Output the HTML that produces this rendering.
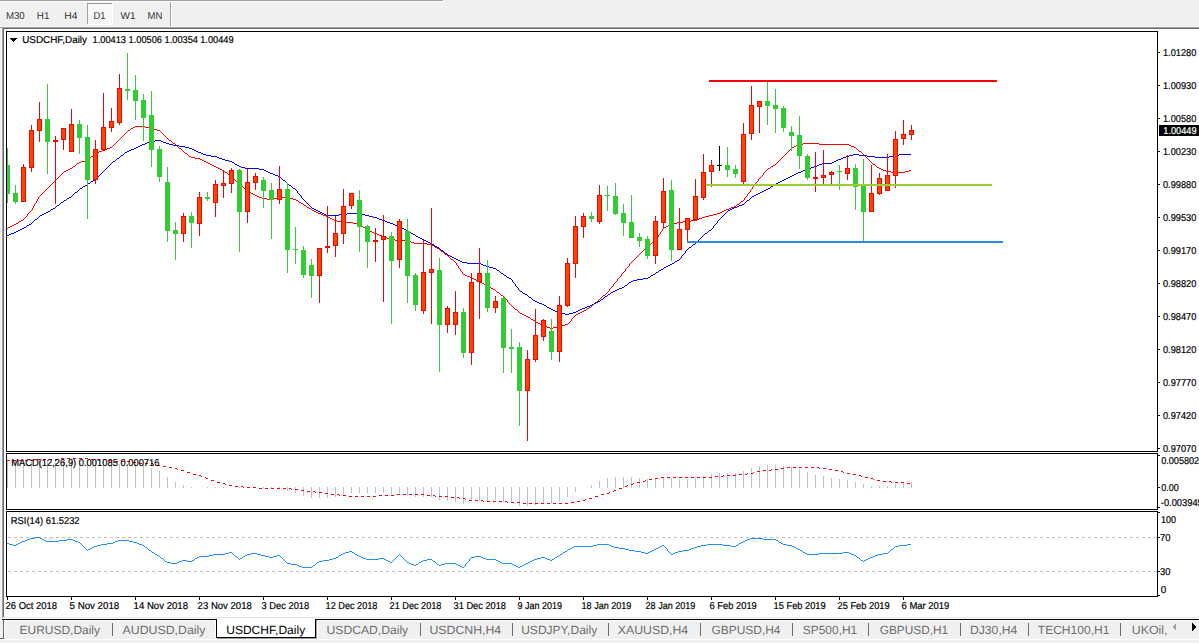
<!DOCTYPE html>
<html><head><meta charset="utf-8"><title>USDCHF,Daily</title>
<style>
html,body{margin:0;padding:0;background:#f0f0f0;}
body{width:1199px;height:643px;overflow:hidden;font-family:"Liberation Sans",sans-serif;}
svg{display:block;}
text{text-rendering:geometricPrecision;}
</style></head><body>
<svg width="1199" height="643" viewBox="0 0 1199 643" shape-rendering="crispEdges" font-family='"Liberation Sans", sans-serif'><rect x="0" y="0" width="1199" height="643" fill="#f0f0f0"/>
<rect x="0" y="0" width="443" height="1" fill="#a0a0a0"/>
<rect x="0" y="1" width="444" height="1" fill="#ffffff"/>
<rect x="443" y="0" width="1" height="2" fill="#ffffff"/>
<defs><pattern id="dith" x="0" y="0" width="2" height="2" patternUnits="userSpaceOnUse"><rect width="2" height="2" fill="#f0f0f0"/><rect width="1" height="1" fill="#ffffff"/><rect x="1" y="1" width="1" height="1" fill="#ffffff"/></pattern></defs>
<rect x="87" y="3" width="26" height="22" fill="url(#dith)"/>
<rect x="87" y="3" width="26" height="1" fill="#a0a0a0"/>
<rect x="87" y="3" width="1" height="22" fill="#a0a0a0"/>
<rect x="87" y="24" width="26" height="1" fill="#ffffff"/>
<rect x="112" y="3" width="1" height="22" fill="#ffffff"/>
<rect x="170" y="2" width="1" height="25" fill="#a0a0a0"/>
<rect x="171" y="2" width="1" height="25" fill="#ffffff"/>
<text x="5.8999999999999995" y="19" font-size="10" fill="#303030" stroke="#303030" stroke-width="0" text-anchor="start" textLength="18.8" lengthAdjust="spacingAndGlyphs">M30</text>
<text x="36.800000000000004" y="19" font-size="10" fill="#303030" stroke="#303030" stroke-width="0" text-anchor="start" textLength="12.600000000000001" lengthAdjust="spacingAndGlyphs">H1</text>
<text x="64.19999999999999" y="19" font-size="10" fill="#303030" stroke="#303030" stroke-width="0" text-anchor="start" textLength="13.200000000000001" lengthAdjust="spacingAndGlyphs">H4</text>
<text x="93.39999999999999" y="19" font-size="10" fill="#303030" stroke="#303030" stroke-width="0" text-anchor="start" textLength="12.0" lengthAdjust="spacingAndGlyphs">D1</text>
<text x="120.5" y="19" font-size="10" fill="#303030" stroke="#303030" stroke-width="0" text-anchor="start" textLength="14.9" lengthAdjust="spacingAndGlyphs">W1</text>
<text x="147.6" y="19" font-size="10" fill="#303030" stroke="#303030" stroke-width="0" text-anchor="start" textLength="14.8" lengthAdjust="spacingAndGlyphs">MN</text>
<rect x="0" y="26" width="1199" height="1" fill="#f6f6f6"/>
<rect x="0" y="27" width="1199" height="1" fill="#a0a0a0"/>
<rect x="2" y="28" width="1197" height="1" fill="#696969"/>
<rect x="1" y="28" width="1" height="590" fill="#f6f6f6"/>
<rect x="2" y="28" width="1" height="590" fill="#a0a0a0"/>
<rect x="3" y="28" width="1" height="590" fill="#696969"/>
<rect x="4" y="29" width="1195" height="588" fill="#ffffff"/>
<rect x="3" y="617" width="1196" height="1" fill="#e3e3e3"/>
<rect x="6" y="31" width="1152" height="1" fill="#000"/>
<rect x="6" y="451" width="1152" height="1" fill="#000"/>
<rect x="6" y="31" width="1" height="421" fill="#000"/>
<rect x="1157" y="31" width="1" height="421" fill="#000"/>
<rect x="6" y="453" width="1152" height="1" fill="#000"/>
<rect x="6" y="509" width="1152" height="1" fill="#000"/>
<rect x="6" y="453" width="1" height="57" fill="#000"/>
<rect x="1157" y="453" width="1" height="57" fill="#000"/>
<rect x="6" y="511" width="1152" height="1" fill="#000"/>
<rect x="6" y="596" width="1152" height="1" fill="#000"/>
<rect x="6" y="511" width="1" height="86" fill="#000"/>
<rect x="1157" y="511" width="1" height="86" fill="#000"/>
<defs><clipPath id="cm"><rect x="7" y="32" width="1150" height="419"/></clipPath><clipPath id="cmacd"><rect x="7" y="454" width="1150" height="55"/></clipPath><clipPath id="crsi"><rect x="7" y="512" width="1150" height="84"/></clipPath></defs>
<g clip-path="url(#cm)">
<path d="M7 228h1v1h-1zM365 228h2v1h-2zM663 228h1v1h-1zM8 227h2v1h-2zM363 227h2v1h-2zM664 227h2v1h-2zM10 226h2v1h-2zM362 226h1v1h-1zM666 226h2v1h-2zM12 225h2v1h-2zM360 225h2v1h-2zM668 225h2v1h-2zM14 224h2v1h-2zM357 224h3v1h-3zM670 224h3v1h-3zM16 223h2v1h-2zM353 223h4v1h-4zM673 223h4v1h-4zM18 222h1v1h-1zM341 222h12v1h-12zM677 222h6v1h-6zM19 221h2v1h-2zM337 221h4v1h-4zM683 221h8v1h-8zM21 220h2v1h-2zM334 220h3v1h-3zM691 220h6v1h-6zM23 219h1v1h-1zM332 219h2v1h-2zM697 219h2v1h-2zM24 218h1v1h-1zM330 218h2v1h-2zM699 218h3v1h-3zM25 217h1v1h-1zM328 217h2v1h-2zM702 217h3v1h-3zM26 216h1v1h-1zM326 216h2v1h-2zM705 216h4v1h-4zM27 215h1v1h-1zM323 215h3v1h-3zM709 215h4v1h-4zM27 214h1v1h-1zM321 214h2v1h-2zM713 214h4v1h-4zM28 213h1v1h-1zM318 213h3v1h-3zM717 213h3v1h-3zM29 212h1v1h-1zM316 212h2v1h-2zM720 212h2v1h-2zM30 211h1v1h-1zM314 211h2v1h-2zM722 211h2v1h-2zM31 210h1v1h-1zM312 210h2v1h-2zM724 210h2v1h-2zM32 209h1v1h-1zM311 209h1v1h-1zM726 209h3v1h-3zM32 208h1v1h-1zM309 208h2v1h-2zM729 208h2v1h-2zM33 207h1v1h-1zM307 207h2v1h-2zM731 207h3v1h-3zM33 206h1v1h-1zM306 206h1v1h-1zM734 206h2v1h-2zM34 205h1v1h-1zM304 205h2v1h-2zM736 205h1v1h-1zM34 204h1v1h-1zM303 204h1v1h-1zM737 204h2v1h-2zM35 203h1v1h-1zM301 203h2v1h-2zM739 203h1v1h-1zM36 202h1v1h-1zM299 202h2v1h-2zM740 202h1v1h-1zM36 201h1v1h-1zM298 201h1v1h-1zM741 201h2v1h-2zM37 200h1v1h-1zM296 200h2v1h-2zM743 200h1v1h-1zM37 199h1v1h-1zM267 199h6v1h-6zM293 199h3v1h-3zM744 199h1v1h-1zM38 198h1v1h-1zM262 198h5v1h-5zM273 198h4v1h-4zM289 198h4v1h-4zM744 198h1v1h-1zM38 197h1v1h-1zM259 197h3v1h-3zM277 197h12v1h-12zM745 197h1v1h-1zM39 196h1v1h-1zM257 196h2v1h-2zM746 196h1v1h-1zM40 195h1v1h-1zM255 195h2v1h-2zM747 195h1v1h-1zM41 194h1v1h-1zM253 194h2v1h-2zM747 194h1v1h-1zM42 193h1v1h-1zM251 193h2v1h-2zM748 193h1v1h-1zM43 192h1v1h-1zM250 192h1v1h-1zM749 192h1v1h-1zM44 191h1v1h-1zM248 191h2v1h-2zM750 191h1v1h-1zM45 190h1v1h-1zM247 190h1v1h-1zM750 190h1v1h-1zM46 189h1v1h-1zM245 189h2v1h-2zM751 189h1v1h-1zM47 188h1v1h-1zM244 188h1v1h-1zM752 188h1v1h-1zM48 187h1v1h-1zM243 187h1v1h-1zM752 187h1v1h-1zM49 186h1v1h-1zM241 186h2v1h-2zM753 186h1v1h-1zM50 185h1v1h-1zM240 185h1v1h-1zM754 185h1v1h-1zM51 184h1v1h-1zM239 184h1v1h-1zM755 184h1v1h-1zM52 183h1v1h-1zM238 183h1v1h-1zM755 183h1v1h-1zM53 182h1v1h-1zM237 182h1v1h-1zM756 182h1v1h-1zM54 181h1v1h-1zM236 181h1v1h-1zM757 181h1v1h-1zM55 180h1v1h-1zM235 180h1v1h-1zM758 180h1v1h-1zM56 179h1v1h-1zM234 179h1v1h-1zM758 179h1v1h-1zM57 178h1v1h-1zM233 178h1v1h-1zM759 178h1v1h-1zM58 177h1v1h-1zM232 177h1v1h-1zM760 177h1v1h-1zM59 176h1v1h-1zM231 176h1v1h-1zM761 176h1v1h-1zM60 175h1v1h-1zM229 175h2v1h-2zM762 175h1v1h-1zM61 174h1v1h-1zM228 174h1v1h-1zM763 174h1v1h-1zM62 173h1v1h-1zM227 173h1v1h-1zM763 173h1v1h-1zM63 172h1v1h-1zM225 172h2v1h-2zM764 172h1v1h-1zM891 172h14v1h-14zM64 171h2v1h-2zM224 171h1v1h-1zM765 171h1v1h-1zM886 171h5v1h-5zM905 171h4v1h-4zM66 170h2v1h-2zM222 170h2v1h-2zM766 170h1v1h-1zM883 170h3v1h-3zM909 170h2v1h-2zM68 169h2v1h-2zM220 169h2v1h-2zM767 169h1v1h-1zM881 169h2v1h-2zM70 168h2v1h-2zM218 168h2v1h-2zM768 168h2v1h-2zM879 168h2v1h-2zM72 167h1v1h-1zM216 167h2v1h-2zM770 167h1v1h-1zM877 167h2v1h-2zM73 166h2v1h-2zM214 166h2v1h-2zM771 166h2v1h-2zM876 166h1v1h-1zM75 165h1v1h-1zM212 165h2v1h-2zM773 165h2v1h-2zM875 165h1v1h-1zM76 164h1v1h-1zM210 164h2v1h-2zM775 164h1v1h-1zM873 164h2v1h-2zM77 163h2v1h-2zM208 163h2v1h-2zM776 163h1v1h-1zM872 163h1v1h-1zM79 162h2v1h-2zM206 162h2v1h-2zM777 162h1v1h-1zM871 162h1v1h-1zM81 161h4v1h-4zM204 161h2v1h-2zM778 161h1v1h-1zM870 161h1v1h-1zM85 160h3v1h-3zM202 160h2v1h-2zM779 160h1v1h-1zM869 160h1v1h-1zM88 159h1v1h-1zM200 159h2v1h-2zM780 159h1v1h-1zM868 159h1v1h-1zM89 158h1v1h-1zM195 158h5v1h-5zM781 158h1v1h-1zM867 158h1v1h-1zM90 157h1v1h-1zM191 157h4v1h-4zM782 157h1v1h-1zM866 157h1v1h-1zM91 156h2v1h-2zM189 156h2v1h-2zM783 156h1v1h-1zM865 156h1v1h-1zM93 155h1v1h-1zM188 155h1v1h-1zM784 155h1v1h-1zM864 155h1v1h-1zM94 154h1v1h-1zM187 154h1v1h-1zM785 154h1v1h-1zM863 154h1v1h-1zM95 153h2v1h-2zM185 153h2v1h-2zM786 153h1v1h-1zM862 153h1v1h-1zM97 152h2v1h-2zM184 152h1v1h-1zM787 152h1v1h-1zM861 152h1v1h-1zM99 151h3v1h-3zM183 151h1v1h-1zM788 151h1v1h-1zM859 151h2v1h-2zM102 150h3v1h-3zM182 150h1v1h-1zM789 150h1v1h-1zM858 150h1v1h-1zM105 149h2v1h-2zM181 149h1v1h-1zM790 149h1v1h-1zM857 149h1v1h-1zM107 148h3v1h-3zM179 148h2v1h-2zM791 148h1v1h-1zM856 148h1v1h-1zM110 147h2v1h-2zM178 147h1v1h-1zM792 147h2v1h-2zM854 147h2v1h-2zM112 146h1v1h-1zM177 146h1v1h-1zM794 146h2v1h-2zM851 146h3v1h-3zM113 145h1v1h-1zM176 145h1v1h-1zM796 145h2v1h-2zM849 145h2v1h-2zM114 144h1v1h-1zM175 144h1v1h-1zM798 144h5v1h-5zM819 144h30v1h-30zM115 143h1v1h-1zM173 143h2v1h-2zM803 143h16v1h-16zM116 142h1v1h-1zM172 142h1v1h-1zM117 141h1v1h-1zM171 141h1v1h-1zM118 140h1v1h-1zM169 140h2v1h-2zM119 139h1v1h-1zM168 139h1v1h-1zM120 138h1v1h-1zM167 138h1v1h-1zM121 137h1v1h-1zM166 137h1v1h-1zM122 136h1v1h-1zM165 136h1v1h-1zM123 135h1v1h-1zM164 135h1v1h-1zM124 134h1v1h-1zM163 134h1v1h-1zM125 133h1v1h-1zM162 133h1v1h-1zM126 132h1v1h-1zM161 132h1v1h-1zM127 131h1v1h-1zM160 131h1v1h-1zM128 130h2v1h-2zM157 130h3v1h-3zM130 129h1v1h-1zM153 129h4v1h-4zM131 128h2v1h-2zM149 128h4v1h-4zM133 127h2v1h-2zM145 127h4v1h-4zM135 126h10v1h-10zM367 229h1v1h-1zM662 229h1v1h-1zM368 230h2v1h-2zM662 230h1v1h-1zM370 231h2v1h-2zM661 231h1v1h-1zM372 232h2v1h-2zM660 232h1v1h-1zM374 233h3v1h-3zM660 233h1v1h-1zM377 234h2v1h-2zM659 234h1v1h-1zM379 235h3v1h-3zM658 235h1v1h-1zM382 236h3v1h-3zM658 236h1v1h-1zM385 237h2v1h-2zM657 237h1v1h-1zM387 238h3v1h-3zM656 238h1v1h-1zM390 239h5v1h-5zM656 239h1v1h-1zM395 240h14v1h-14zM655 240h1v1h-1zM409 241h2v1h-2zM653 241h2v1h-2zM411 242h3v1h-3zM652 242h1v1h-1zM414 243h13v1h-13zM651 243h1v1h-1zM427 244h5v1h-5zM649 244h2v1h-2zM432 245h2v1h-2zM648 245h1v1h-1zM434 246h1v1h-1zM647 246h1v1h-1zM435 247h2v1h-2zM646 247h1v1h-1zM437 248h2v1h-2zM645 248h1v1h-1zM439 249h1v1h-1zM644 249h1v1h-1zM440 250h1v1h-1zM643 250h1v1h-1zM441 251h2v1h-2zM642 251h1v1h-1zM443 252h1v1h-1zM641 252h1v1h-1zM444 253h1v1h-1zM640 253h1v1h-1zM445 254h2v1h-2zM639 254h1v1h-1zM447 255h1v1h-1zM638 255h1v1h-1zM448 256h1v1h-1zM637 256h1v1h-1zM449 257h1v1h-1zM636 257h1v1h-1zM450 258h1v1h-1zM635 258h1v1h-1zM451 259h2v1h-2zM634 259h1v1h-1zM453 260h1v1h-1zM633 260h1v1h-1zM454 261h1v1h-1zM632 261h1v1h-1zM455 262h1v1h-1zM631 262h1v1h-1zM456 263h1v1h-1zM630 263h1v1h-1zM456 264h1v1h-1zM629 264h1v1h-1zM457 265h1v1h-1zM629 265h1v1h-1zM458 266h1v1h-1zM628 266h1v1h-1zM458 267h1v1h-1zM627 267h1v1h-1zM459 268h1v1h-1zM626 268h1v1h-1zM460 269h1v1h-1zM625 269h1v1h-1zM460 270h1v1h-1zM625 270h1v1h-1zM461 271h1v1h-1zM624 271h1v1h-1zM462 272h1v1h-1zM623 272h1v1h-1zM462 273h1v1h-1zM622 273h1v1h-1zM463 274h2v1h-2zM621 274h1v1h-1zM465 275h2v1h-2zM621 275h1v1h-1zM467 276h3v1h-3zM620 276h1v1h-1zM470 277h2v1h-2zM619 277h1v1h-1zM472 278h2v1h-2zM618 278h1v1h-1zM474 279h2v1h-2zM617 279h1v1h-1zM476 280h2v1h-2zM617 280h1v1h-1zM478 281h2v1h-2zM616 281h1v1h-1zM480 282h2v1h-2zM615 282h1v1h-1zM482 283h2v1h-2zM614 283h1v1h-1zM484 284h2v1h-2zM613 284h1v1h-1zM486 285h2v1h-2zM613 285h1v1h-1zM488 286h2v1h-2zM612 286h1v1h-1zM490 287h1v1h-1zM611 287h1v1h-1zM491 288h2v1h-2zM610 288h1v1h-1zM493 289h2v1h-2zM609 289h1v1h-1zM495 290h1v1h-1zM609 290h1v1h-1zM496 291h1v1h-1zM608 291h1v1h-1zM497 292h2v1h-2zM607 292h1v1h-1zM499 293h1v1h-1zM606 293h1v1h-1zM500 294h1v1h-1zM605 294h1v1h-1zM501 295h2v1h-2zM603 295h2v1h-2zM503 296h1v1h-1zM602 296h1v1h-1zM504 297h1v1h-1zM601 297h1v1h-1zM505 298h1v1h-1zM600 298h1v1h-1zM506 299h1v1h-1zM599 299h1v1h-1zM507 300h1v1h-1zM598 300h1v1h-1zM507 301h1v1h-1zM597 301h1v1h-1zM508 302h1v1h-1zM595 302h2v1h-2zM509 303h1v1h-1zM594 303h1v1h-1zM510 304h1v1h-1zM593 304h1v1h-1zM511 305h1v1h-1zM592 305h1v1h-1zM512 306h1v1h-1zM591 306h1v1h-1zM513 307h1v1h-1zM589 307h2v1h-2zM514 308h1v1h-1zM587 308h2v1h-2zM515 309h2v1h-2zM586 309h1v1h-1zM517 310h1v1h-1zM584 310h2v1h-2zM518 311h1v1h-1zM582 311h2v1h-2zM519 312h1v1h-1zM580 312h2v1h-2zM520 313h2v1h-2zM578 313h2v1h-2zM522 314h2v1h-2zM576 314h2v1h-2zM524 315h2v1h-2zM575 315h1v1h-1zM526 316h2v1h-2zM574 316h1v1h-1zM528 317h2v1h-2zM573 317h1v1h-1zM530 318h1v1h-1zM572 318h1v1h-1zM531 319h2v1h-2zM571 319h1v1h-1zM533 320h2v1h-2zM571 320h1v1h-1zM535 321h1v1h-1zM570 321h1v1h-1zM536 322h2v1h-2zM569 322h1v1h-1zM538 323h2v1h-2zM568 323h1v1h-1zM540 324h2v1h-2zM565 324h3v1h-3zM542 325h3v1h-3zM561 325h4v1h-4zM545 326h2v1h-2zM557 326h4v1h-4zM547 327h3v1h-3zM553 327h4v1h-4zM550 328h3v1h-3z" fill="#ff0000"/>
<path d="M7 235h2v1h-2zM415 235h1v1h-1zM703 235h1v1h-1zM9 234h2v1h-2zM413 234h2v1h-2zM704 234h1v1h-1zM11 233h3v1h-3zM411 233h2v1h-2zM705 233h2v1h-2zM14 232h2v1h-2zM410 232h1v1h-1zM707 232h1v1h-1zM16 231h2v1h-2zM408 231h2v1h-2zM708 231h1v1h-1zM18 230h2v1h-2zM406 230h2v1h-2zM709 230h2v1h-2zM20 229h2v1h-2zM404 229h2v1h-2zM711 229h1v1h-1zM22 228h2v1h-2zM402 228h2v1h-2zM712 228h1v1h-1zM24 227h2v1h-2zM400 227h2v1h-2zM713 227h1v1h-1zM26 226h1v1h-1zM398 226h2v1h-2zM713 226h1v1h-1zM27 225h2v1h-2zM395 225h3v1h-3zM714 225h1v1h-1zM29 224h2v1h-2zM393 224h2v1h-2zM715 224h1v1h-1zM31 223h1v1h-1zM390 223h3v1h-3zM716 223h1v1h-1zM32 222h1v1h-1zM387 222h3v1h-3zM717 222h1v1h-1zM33 221h1v1h-1zM385 221h2v1h-2zM717 221h1v1h-1zM34 220h1v1h-1zM382 220h3v1h-3zM718 220h1v1h-1zM35 219h2v1h-2zM379 219h3v1h-3zM719 219h1v1h-1zM37 218h1v1h-1zM377 218h2v1h-2zM720 218h1v1h-1zM38 217h1v1h-1zM373 217h4v1h-4zM721 217h1v1h-1zM39 216h1v1h-1zM369 216h4v1h-4zM722 216h1v1h-1zM40 215h2v1h-2zM326 215h13v1h-13zM365 215h4v1h-4zM723 215h1v1h-1zM42 214h2v1h-2zM324 214h2v1h-2zM339 214h8v1h-8zM361 214h4v1h-4zM724 214h1v1h-1zM44 213h2v1h-2zM322 213h2v1h-2zM347 213h14v1h-14zM725 213h1v1h-1zM46 212h2v1h-2zM320 212h2v1h-2zM726 212h1v1h-1zM48 211h2v1h-2zM318 211h2v1h-2zM727 211h1v1h-1zM50 210h1v1h-1zM316 210h2v1h-2zM728 210h2v1h-2zM51 209h2v1h-2zM314 209h2v1h-2zM730 209h2v1h-2zM53 208h2v1h-2zM312 208h2v1h-2zM732 208h2v1h-2zM55 207h1v1h-1zM311 207h1v1h-1zM734 207h3v1h-3zM56 206h1v1h-1zM310 206h1v1h-1zM737 206h2v1h-2zM57 205h2v1h-2zM309 205h1v1h-1zM739 205h3v1h-3zM59 204h1v1h-1zM308 204h1v1h-1zM742 204h2v1h-2zM60 203h1v1h-1zM307 203h1v1h-1zM744 203h1v1h-1zM61 202h2v1h-2zM306 202h1v1h-1zM745 202h1v1h-1zM63 201h1v1h-1zM305 201h1v1h-1zM746 201h1v1h-1zM64 200h2v1h-2zM304 200h1v1h-1zM747 200h2v1h-2zM66 199h1v1h-1zM303 199h1v1h-1zM749 199h1v1h-1zM67 198h2v1h-2zM302 198h1v1h-1zM750 198h1v1h-1zM69 197h2v1h-2zM301 197h1v1h-1zM751 197h1v1h-1zM71 196h1v1h-1zM301 196h1v1h-1zM752 196h2v1h-2zM72 195h1v1h-1zM300 195h1v1h-1zM754 195h2v1h-2zM73 194h1v1h-1zM299 194h1v1h-1zM756 194h2v1h-2zM74 193h1v1h-1zM298 193h1v1h-1zM758 193h2v1h-2zM75 192h2v1h-2zM297 192h1v1h-1zM760 192h2v1h-2zM77 191h1v1h-1zM297 191h1v1h-1zM762 191h2v1h-2zM78 190h1v1h-1zM296 190h1v1h-1zM764 190h2v1h-2zM79 189h1v1h-1zM295 189h1v1h-1zM766 189h2v1h-2zM80 188h2v1h-2zM293 188h2v1h-2zM768 188h2v1h-2zM82 187h1v1h-1zM292 187h1v1h-1zM770 187h1v1h-1zM83 186h2v1h-2zM291 186h1v1h-1zM771 186h2v1h-2zM85 185h2v1h-2zM289 185h2v1h-2zM773 185h2v1h-2zM87 184h1v1h-1zM288 184h1v1h-1zM775 184h1v1h-1zM88 183h2v1h-2zM287 183h1v1h-1zM776 183h2v1h-2zM90 182h1v1h-1zM286 182h1v1h-1zM778 182h2v1h-2zM91 181h2v1h-2zM285 181h1v1h-1zM780 181h2v1h-2zM93 180h2v1h-2zM283 180h2v1h-2zM782 180h2v1h-2zM95 179h1v1h-1zM282 179h1v1h-1zM784 179h2v1h-2zM96 178h1v1h-1zM281 178h1v1h-1zM786 178h2v1h-2zM97 177h1v1h-1zM280 177h1v1h-1zM788 177h2v1h-2zM98 176h1v1h-1zM278 176h2v1h-2zM790 176h2v1h-2zM99 175h1v1h-1zM275 175h3v1h-3zM792 175h2v1h-2zM100 174h1v1h-1zM273 174h2v1h-2zM794 174h2v1h-2zM101 173h1v1h-1zM270 173h3v1h-3zM796 173h2v1h-2zM102 172h1v1h-1zM268 172h2v1h-2zM798 172h3v1h-3zM103 171h1v1h-1zM266 171h2v1h-2zM801 171h2v1h-2zM104 170h1v1h-1zM264 170h2v1h-2zM803 170h3v1h-3zM105 169h1v1h-1zM259 169h5v1h-5zM806 169h3v1h-3zM106 168h1v1h-1zM245 168h14v1h-14zM809 168h2v1h-2zM107 167h1v1h-1zM241 167h4v1h-4zM811 167h3v1h-3zM108 166h1v1h-1zM239 166h2v1h-2zM814 166h3v1h-3zM109 165h1v1h-1zM237 165h2v1h-2zM817 165h2v1h-2zM110 164h1v1h-1zM235 164h2v1h-2zM819 164h3v1h-3zM111 163h1v1h-1zM234 163h1v1h-1zM822 163h10v1h-10zM112 162h1v1h-1zM232 162h2v1h-2zM832 162h2v1h-2zM113 161h2v1h-2zM229 161h3v1h-3zM834 161h2v1h-2zM115 160h1v1h-1zM225 160h4v1h-4zM836 160h2v1h-2zM116 159h1v1h-1zM222 159h3v1h-3zM838 159h3v1h-3zM117 158h2v1h-2zM219 158h3v1h-3zM841 158h2v1h-2zM119 157h1v1h-1zM217 157h2v1h-2zM843 157h3v1h-3zM875 157h14v1h-14zM120 156h1v1h-1zM211 156h6v1h-6zM846 156h3v1h-3zM867 156h8v1h-8zM889 156h4v1h-4zM121 155h2v1h-2zM206 155h5v1h-5zM849 155h4v1h-4zM859 155h8v1h-8zM893 155h6v1h-6zM123 154h1v1h-1zM203 154h3v1h-3zM853 154h6v1h-6zM899 154h12v1h-12zM124 153h1v1h-1zM201 153h2v1h-2zM125 152h2v1h-2zM198 152h3v1h-3zM127 151h2v1h-2zM196 151h2v1h-2zM129 150h2v1h-2zM194 150h2v1h-2zM131 149h3v1h-3zM192 149h2v1h-2zM134 148h2v1h-2zM189 148h3v1h-3zM136 147h2v1h-2zM185 147h4v1h-4zM138 146h2v1h-2zM179 146h6v1h-6zM140 145h2v1h-2zM173 145h6v1h-6zM142 144h3v1h-3zM169 144h4v1h-4zM145 143h2v1h-2zM166 143h3v1h-3zM147 142h3v1h-3zM163 142h3v1h-3zM150 141h5v1h-5zM161 141h2v1h-2zM155 140h6v1h-6zM416 236h2v1h-2zM702 236h1v1h-1zM418 237h2v1h-2zM701 237h1v1h-1zM420 238h2v1h-2zM700 238h1v1h-1zM422 239h2v1h-2zM699 239h1v1h-1zM424 240h2v1h-2zM698 240h1v1h-1zM426 241h2v1h-2zM697 241h1v1h-1zM428 242h2v1h-2zM696 242h1v1h-1zM430 243h2v1h-2zM695 243h1v1h-1zM432 244h2v1h-2zM693 244h2v1h-2zM434 245h1v1h-1zM692 245h1v1h-1zM435 246h2v1h-2zM691 246h1v1h-1zM437 247h2v1h-2zM689 247h2v1h-2zM439 248h1v1h-1zM688 248h1v1h-1zM440 249h1v1h-1zM687 249h1v1h-1zM441 250h2v1h-2zM686 250h1v1h-1zM443 251h1v1h-1zM685 251h1v1h-1zM444 252h1v1h-1zM685 252h1v1h-1zM445 253h2v1h-2zM684 253h1v1h-1zM447 254h1v1h-1zM683 254h1v1h-1zM448 255h2v1h-2zM682 255h1v1h-1zM450 256h2v1h-2zM681 256h1v1h-1zM452 257h2v1h-2zM681 257h1v1h-1zM454 258h2v1h-2zM680 258h1v1h-1zM456 259h2v1h-2zM679 259h1v1h-1zM458 260h2v1h-2zM677 260h2v1h-2zM460 261h2v1h-2zM675 261h2v1h-2zM462 262h5v1h-5zM674 262h1v1h-1zM467 263h14v1h-14zM672 263h2v1h-2zM481 264h2v1h-2zM670 264h2v1h-2zM483 265h3v1h-3zM668 265h2v1h-2zM486 266h3v1h-3zM666 266h2v1h-2zM489 267h4v1h-4zM664 267h2v1h-2zM493 268h3v1h-3zM663 268h1v1h-1zM496 269h1v1h-1zM661 269h2v1h-2zM497 270h2v1h-2zM659 270h2v1h-2zM499 271h1v1h-1zM658 271h1v1h-1zM500 272h1v1h-1zM656 272h2v1h-2zM501 273h2v1h-2zM655 273h1v1h-1zM503 274h1v1h-1zM653 274h2v1h-2zM504 275h2v1h-2zM651 275h2v1h-2zM506 276h1v1h-1zM650 276h1v1h-1zM507 277h2v1h-2zM648 277h2v1h-2zM509 278h2v1h-2zM643 278h5v1h-5zM511 279h1v1h-1zM637 279h6v1h-6zM512 280h1v1h-1zM633 280h4v1h-4zM512 281h1v1h-1zM631 281h2v1h-2zM513 282h1v1h-1zM629 282h2v1h-2zM514 283h1v1h-1zM628 283h1v1h-1zM515 284h1v1h-1zM627 284h1v1h-1zM515 285h1v1h-1zM625 285h2v1h-2zM516 286h1v1h-1zM624 286h1v1h-1zM517 287h1v1h-1zM622 287h2v1h-2zM518 288h1v1h-1zM619 288h3v1h-3zM518 289h1v1h-1zM617 289h2v1h-2zM519 290h1v1h-1zM615 290h2v1h-2zM520 291h2v1h-2zM613 291h2v1h-2zM522 292h1v1h-1zM611 292h2v1h-2zM523 293h2v1h-2zM610 293h1v1h-1zM525 294h2v1h-2zM608 294h2v1h-2zM527 295h1v1h-1zM607 295h1v1h-1zM528 296h1v1h-1zM605 296h2v1h-2zM529 297h2v1h-2zM604 297h1v1h-1zM531 298h1v1h-1zM603 298h1v1h-1zM532 299h1v1h-1zM601 299h2v1h-2zM533 300h2v1h-2zM600 300h1v1h-1zM535 301h2v1h-2zM598 301h2v1h-2zM537 302h2v1h-2zM596 302h2v1h-2zM539 303h3v1h-3zM594 303h2v1h-2zM542 304h2v1h-2zM592 304h2v1h-2zM544 305h2v1h-2zM590 305h2v1h-2zM546 306h1v1h-1zM587 306h3v1h-3zM547 307h2v1h-2zM585 307h2v1h-2zM549 308h2v1h-2zM582 308h3v1h-3zM551 309h2v1h-2zM580 309h2v1h-2zM553 310h2v1h-2zM578 310h2v1h-2zM555 311h3v1h-3zM576 311h2v1h-2zM558 312h3v1h-3zM573 312h3v1h-3zM561 313h4v1h-4zM569 313h4v1h-4zM565 314h4v1h-4z" fill="#0000ff"/>
<rect x="7" y="148" width="1" height="55" fill="#32cd32"/>
<rect x="5" y="165" width="5" height="29" fill="#32cd32"/>
<rect x="15" y="185" width="1" height="19" fill="#32cd32"/>
<rect x="13" y="193" width="5" height="9" fill="#32cd32"/>
<rect x="23" y="164" width="1" height="38" fill="#ff0000"/>
<rect x="21" y="167" width="5" height="35" fill="#ff0000"/>
<rect x="22" y="168" width="3" height="33" fill="#ff4500"/>
<rect x="31" y="125" width="1" height="47" fill="#ff0000"/>
<rect x="29" y="130" width="5" height="38" fill="#ff0000"/>
<rect x="30" y="131" width="3" height="36" fill="#ff4500"/>
<rect x="39" y="102" width="1" height="40" fill="#ff0000"/>
<rect x="37" y="119" width="5" height="12" fill="#ff0000"/>
<rect x="38" y="120" width="3" height="10" fill="#ff4500"/>
<rect x="47" y="84" width="1" height="90" fill="#32cd32"/>
<rect x="45" y="119" width="5" height="23" fill="#32cd32"/>
<rect x="55" y="136" width="1" height="68" fill="#ff0000"/>
<rect x="53" y="140" width="5" height="2" fill="#ff0000"/>
<rect x="63" y="128" width="1" height="22" fill="#ff0000"/>
<rect x="61" y="128" width="5" height="12" fill="#ff0000"/>
<rect x="62" y="129" width="3" height="10" fill="#ff4500"/>
<rect x="71" y="109" width="1" height="43" fill="#ff0000"/>
<rect x="69" y="124" width="5" height="28" fill="#ff0000"/>
<rect x="70" y="125" width="3" height="26" fill="#ff4500"/>
<rect x="79" y="120" width="1" height="34" fill="#32cd32"/>
<rect x="77" y="124" width="5" height="14" fill="#32cd32"/>
<rect x="87" y="125" width="1" height="94" fill="#32cd32"/>
<rect x="85" y="137" width="5" height="43" fill="#32cd32"/>
<rect x="95" y="140" width="1" height="44" fill="#ff0000"/>
<rect x="93" y="149" width="5" height="31" fill="#ff0000"/>
<rect x="94" y="150" width="3" height="29" fill="#ff4500"/>
<rect x="103" y="93" width="1" height="57" fill="#ff0000"/>
<rect x="101" y="127" width="5" height="23" fill="#ff0000"/>
<rect x="102" y="128" width="3" height="21" fill="#ff4500"/>
<rect x="111" y="108" width="1" height="24" fill="#ff0000"/>
<rect x="109" y="121" width="5" height="7" fill="#ff0000"/>
<rect x="110" y="122" width="3" height="5" fill="#ff4500"/>
<rect x="119" y="74" width="1" height="51" fill="#ff0000"/>
<rect x="117" y="88" width="5" height="35" fill="#ff0000"/>
<rect x="118" y="89" width="3" height="33" fill="#ff4500"/>
<rect x="127" y="53" width="1" height="47" fill="#32cd32"/>
<rect x="125" y="89" width="5" height="2" fill="#32cd32"/>
<rect x="135" y="75" width="1" height="45" fill="#32cd32"/>
<rect x="133" y="90" width="5" height="11" fill="#32cd32"/>
<rect x="143" y="94" width="1" height="47" fill="#32cd32"/>
<rect x="141" y="100" width="5" height="18" fill="#32cd32"/>
<rect x="151" y="91" width="1" height="76" fill="#32cd32"/>
<rect x="149" y="115" width="5" height="35" fill="#32cd32"/>
<rect x="159" y="146" width="1" height="36" fill="#32cd32"/>
<rect x="157" y="149" width="5" height="28" fill="#32cd32"/>
<rect x="167" y="167" width="1" height="75" fill="#32cd32"/>
<rect x="165" y="182" width="5" height="49" fill="#32cd32"/>
<rect x="175" y="222" width="1" height="38" fill="#32cd32"/>
<rect x="173" y="230" width="5" height="4" fill="#32cd32"/>
<rect x="183" y="213" width="1" height="29" fill="#ff0000"/>
<rect x="181" y="216" width="5" height="18" fill="#ff0000"/>
<rect x="182" y="217" width="3" height="16" fill="#ff4500"/>
<rect x="191" y="212" width="1" height="36" fill="#32cd32"/>
<rect x="189" y="216" width="5" height="7" fill="#32cd32"/>
<rect x="199" y="192" width="1" height="44" fill="#ff0000"/>
<rect x="197" y="197" width="5" height="27" fill="#ff0000"/>
<rect x="198" y="198" width="3" height="25" fill="#ff4500"/>
<rect x="207" y="192" width="1" height="9" fill="#32cd32"/>
<rect x="205" y="197" width="5" height="2" fill="#32cd32"/>
<rect x="215" y="180" width="1" height="37" fill="#ff0000"/>
<rect x="213" y="184" width="5" height="19" fill="#ff0000"/>
<rect x="214" y="185" width="3" height="17" fill="#ff4500"/>
<rect x="223" y="170" width="1" height="28" fill="#ff0000"/>
<rect x="221" y="183" width="5" height="3" fill="#ff0000"/>
<rect x="222" y="184" width="3" height="1" fill="#ff4500"/>
<rect x="231" y="168" width="1" height="25" fill="#ff0000"/>
<rect x="229" y="170" width="5" height="14" fill="#ff0000"/>
<rect x="230" y="171" width="3" height="12" fill="#ff4500"/>
<rect x="239" y="169" width="1" height="83" fill="#32cd32"/>
<rect x="237" y="170" width="5" height="42" fill="#32cd32"/>
<rect x="247" y="169" width="1" height="54" fill="#ff0000"/>
<rect x="245" y="182" width="5" height="30" fill="#ff0000"/>
<rect x="246" y="183" width="3" height="28" fill="#ff4500"/>
<rect x="255" y="173" width="1" height="17" fill="#ff0000"/>
<rect x="253" y="176" width="5" height="7" fill="#ff0000"/>
<rect x="254" y="177" width="3" height="5" fill="#ff4500"/>
<rect x="263" y="177" width="1" height="31" fill="#32cd32"/>
<rect x="261" y="180" width="5" height="11" fill="#32cd32"/>
<rect x="271" y="183" width="1" height="56" fill="#32cd32"/>
<rect x="269" y="190" width="5" height="10" fill="#32cd32"/>
<rect x="279" y="166" width="1" height="38" fill="#ff0000"/>
<rect x="277" y="189" width="5" height="11" fill="#ff0000"/>
<rect x="278" y="190" width="3" height="9" fill="#ff4500"/>
<rect x="287" y="183" width="1" height="90" fill="#32cd32"/>
<rect x="285" y="189" width="5" height="61" fill="#32cd32"/>
<rect x="295" y="227" width="1" height="37" fill="#32cd32"/>
<rect x="293" y="249" width="5" height="1" fill="#32cd32"/>
<rect x="303" y="246" width="1" height="32" fill="#32cd32"/>
<rect x="301" y="250" width="5" height="25" fill="#32cd32"/>
<rect x="311" y="259" width="1" height="39" fill="#32cd32"/>
<rect x="309" y="265" width="5" height="11" fill="#32cd32"/>
<rect x="319" y="248" width="1" height="55" fill="#ff0000"/>
<rect x="317" y="248" width="5" height="28" fill="#ff0000"/>
<rect x="318" y="249" width="3" height="26" fill="#ff4500"/>
<rect x="327" y="206" width="1" height="47" fill="#ff0000"/>
<rect x="325" y="246" width="5" height="2" fill="#ff0000"/>
<rect x="335" y="216" width="1" height="41" fill="#ff0000"/>
<rect x="333" y="233" width="5" height="13" fill="#ff0000"/>
<rect x="334" y="234" width="3" height="11" fill="#ff4500"/>
<rect x="343" y="189" width="1" height="55" fill="#ff0000"/>
<rect x="341" y="206" width="5" height="28" fill="#ff0000"/>
<rect x="342" y="207" width="3" height="26" fill="#ff4500"/>
<rect x="351" y="193" width="1" height="16" fill="#ff0000"/>
<rect x="349" y="193" width="5" height="13" fill="#ff0000"/>
<rect x="350" y="194" width="3" height="11" fill="#ff4500"/>
<rect x="359" y="190" width="1" height="62" fill="#32cd32"/>
<rect x="357" y="200" width="5" height="27" fill="#32cd32"/>
<rect x="367" y="225" width="1" height="43" fill="#32cd32"/>
<rect x="365" y="226" width="5" height="16" fill="#32cd32"/>
<rect x="375" y="228" width="1" height="34" fill="#ff0000"/>
<rect x="373" y="240" width="5" height="2" fill="#ff0000"/>
<rect x="383" y="215" width="1" height="87" fill="#ff0000"/>
<rect x="381" y="236" width="5" height="4" fill="#ff0000"/>
<rect x="382" y="237" width="3" height="2" fill="#ff4500"/>
<rect x="391" y="232" width="1" height="92" fill="#32cd32"/>
<rect x="389" y="236" width="5" height="25" fill="#32cd32"/>
<rect x="399" y="219" width="1" height="49" fill="#ff0000"/>
<rect x="397" y="221" width="5" height="39" fill="#ff0000"/>
<rect x="398" y="222" width="3" height="37" fill="#ff4500"/>
<rect x="407" y="219" width="1" height="84" fill="#32cd32"/>
<rect x="405" y="231" width="5" height="45" fill="#32cd32"/>
<rect x="415" y="273" width="1" height="38" fill="#32cd32"/>
<rect x="413" y="275" width="5" height="30" fill="#32cd32"/>
<rect x="423" y="240" width="1" height="74" fill="#ff0000"/>
<rect x="421" y="272" width="5" height="39" fill="#ff0000"/>
<rect x="422" y="273" width="3" height="37" fill="#ff4500"/>
<rect x="431" y="208" width="1" height="116" fill="#ff0000"/>
<rect x="429" y="269" width="5" height="4" fill="#ff0000"/>
<rect x="430" y="270" width="3" height="2" fill="#ff4500"/>
<rect x="439" y="258" width="1" height="114" fill="#32cd32"/>
<rect x="437" y="270" width="5" height="55" fill="#32cd32"/>
<rect x="447" y="306" width="1" height="27" fill="#ff0000"/>
<rect x="445" y="308" width="5" height="17" fill="#ff0000"/>
<rect x="446" y="309" width="3" height="15" fill="#ff4500"/>
<rect x="455" y="291" width="1" height="44" fill="#ff0000"/>
<rect x="453" y="312" width="5" height="13" fill="#ff0000"/>
<rect x="454" y="313" width="3" height="11" fill="#ff4500"/>
<rect x="463" y="308" width="1" height="50" fill="#32cd32"/>
<rect x="461" y="312" width="5" height="41" fill="#32cd32"/>
<rect x="471" y="273" width="1" height="92" fill="#ff0000"/>
<rect x="469" y="282" width="5" height="71" fill="#ff0000"/>
<rect x="470" y="283" width="3" height="69" fill="#ff4500"/>
<rect x="479" y="248" width="1" height="71" fill="#ff0000"/>
<rect x="477" y="273" width="5" height="9" fill="#ff0000"/>
<rect x="478" y="274" width="3" height="7" fill="#ff4500"/>
<rect x="487" y="260" width="1" height="52" fill="#32cd32"/>
<rect x="485" y="273" width="5" height="35" fill="#32cd32"/>
<rect x="495" y="296" width="1" height="17" fill="#ff0000"/>
<rect x="493" y="301" width="5" height="7" fill="#ff0000"/>
<rect x="494" y="302" width="3" height="5" fill="#ff4500"/>
<rect x="503" y="297" width="1" height="76" fill="#32cd32"/>
<rect x="501" y="298" width="5" height="50" fill="#32cd32"/>
<rect x="511" y="329" width="1" height="44" fill="#32cd32"/>
<rect x="509" y="347" width="5" height="2" fill="#32cd32"/>
<rect x="519" y="342" width="1" height="84" fill="#32cd32"/>
<rect x="517" y="347" width="5" height="44" fill="#32cd32"/>
<rect x="527" y="350" width="1" height="91" fill="#ff0000"/>
<rect x="525" y="359" width="5" height="32" fill="#ff0000"/>
<rect x="526" y="360" width="3" height="30" fill="#ff4500"/>
<rect x="535" y="309" width="1" height="53" fill="#ff0000"/>
<rect x="533" y="335" width="5" height="25" fill="#ff0000"/>
<rect x="534" y="336" width="3" height="23" fill="#ff4500"/>
<rect x="543" y="319" width="1" height="22" fill="#ff0000"/>
<rect x="541" y="320" width="5" height="17" fill="#ff0000"/>
<rect x="542" y="321" width="3" height="15" fill="#ff4500"/>
<rect x="551" y="319" width="1" height="41" fill="#32cd32"/>
<rect x="549" y="331" width="5" height="21" fill="#32cd32"/>
<rect x="559" y="296" width="1" height="66" fill="#ff0000"/>
<rect x="557" y="305" width="5" height="47" fill="#ff0000"/>
<rect x="558" y="306" width="3" height="45" fill="#ff4500"/>
<rect x="567" y="258" width="1" height="49" fill="#ff0000"/>
<rect x="565" y="263" width="5" height="43" fill="#ff0000"/>
<rect x="566" y="264" width="3" height="41" fill="#ff4500"/>
<rect x="575" y="216" width="1" height="62" fill="#ff0000"/>
<rect x="573" y="226" width="5" height="38" fill="#ff0000"/>
<rect x="574" y="227" width="3" height="36" fill="#ff4500"/>
<rect x="583" y="213" width="1" height="25" fill="#ff0000"/>
<rect x="581" y="216" width="5" height="11" fill="#ff0000"/>
<rect x="582" y="217" width="3" height="9" fill="#ff4500"/>
<rect x="591" y="212" width="1" height="10" fill="#32cd32"/>
<rect x="589" y="216" width="5" height="3" fill="#32cd32"/>
<rect x="599" y="185" width="1" height="39" fill="#ff0000"/>
<rect x="597" y="195" width="5" height="27" fill="#ff0000"/>
<rect x="598" y="196" width="3" height="25" fill="#ff4500"/>
<rect x="607" y="186" width="1" height="25" fill="#32cd32"/>
<rect x="605" y="195" width="5" height="1" fill="#32cd32"/>
<rect x="615" y="183" width="1" height="32" fill="#32cd32"/>
<rect x="613" y="196" width="5" height="18" fill="#32cd32"/>
<rect x="623" y="204" width="1" height="32" fill="#32cd32"/>
<rect x="621" y="213" width="5" height="10" fill="#32cd32"/>
<rect x="631" y="195" width="1" height="43" fill="#32cd32"/>
<rect x="629" y="222" width="5" height="16" fill="#32cd32"/>
<rect x="639" y="233" width="1" height="14" fill="#32cd32"/>
<rect x="637" y="237" width="5" height="4" fill="#32cd32"/>
<rect x="647" y="236" width="1" height="23" fill="#32cd32"/>
<rect x="645" y="239" width="5" height="17" fill="#32cd32"/>
<rect x="655" y="216" width="1" height="48" fill="#ff0000"/>
<rect x="653" y="221" width="5" height="35" fill="#ff0000"/>
<rect x="654" y="222" width="3" height="33" fill="#ff4500"/>
<rect x="663" y="178" width="1" height="50" fill="#ff0000"/>
<rect x="661" y="191" width="5" height="32" fill="#ff0000"/>
<rect x="662" y="192" width="3" height="30" fill="#ff4500"/>
<rect x="671" y="180" width="1" height="81" fill="#32cd32"/>
<rect x="669" y="190" width="5" height="60" fill="#32cd32"/>
<rect x="679" y="208" width="1" height="42" fill="#ff0000"/>
<rect x="677" y="229" width="5" height="21" fill="#ff0000"/>
<rect x="678" y="230" width="3" height="19" fill="#ff4500"/>
<rect x="687" y="218" width="1" height="24" fill="#ff0000"/>
<rect x="685" y="218" width="5" height="12" fill="#ff0000"/>
<rect x="686" y="219" width="3" height="10" fill="#ff4500"/>
<rect x="695" y="179" width="1" height="41" fill="#ff0000"/>
<rect x="693" y="196" width="5" height="24" fill="#ff0000"/>
<rect x="694" y="197" width="3" height="22" fill="#ff4500"/>
<rect x="703" y="154" width="1" height="46" fill="#ff0000"/>
<rect x="701" y="172" width="5" height="26" fill="#ff0000"/>
<rect x="702" y="173" width="3" height="24" fill="#ff4500"/>
<rect x="711" y="160" width="1" height="27" fill="#ff0000"/>
<rect x="709" y="165" width="5" height="7" fill="#ff0000"/>
<rect x="710" y="166" width="3" height="5" fill="#ff4500"/>
<rect x="719" y="146" width="1" height="25" fill="#000000"/>
<rect x="717" y="165" width="5" height="1" fill="#000000"/>
<rect x="727" y="147" width="1" height="30" fill="#32cd32"/>
<rect x="725" y="165" width="5" height="5" fill="#32cd32"/>
<rect x="735" y="165" width="1" height="13" fill="#32cd32"/>
<rect x="733" y="169" width="5" height="5" fill="#32cd32"/>
<rect x="743" y="123" width="1" height="61" fill="#ff0000"/>
<rect x="741" y="134" width="5" height="48" fill="#ff0000"/>
<rect x="742" y="135" width="3" height="46" fill="#ff4500"/>
<rect x="751" y="86" width="1" height="54" fill="#ff0000"/>
<rect x="749" y="105" width="5" height="29" fill="#ff0000"/>
<rect x="750" y="106" width="3" height="27" fill="#ff4500"/>
<rect x="759" y="101" width="1" height="32" fill="#ff0000"/>
<rect x="757" y="101" width="5" height="6" fill="#ff0000"/>
<rect x="758" y="102" width="3" height="4" fill="#ff4500"/>
<rect x="767" y="82" width="1" height="43" fill="#32cd32"/>
<rect x="765" y="101" width="5" height="5" fill="#32cd32"/>
<rect x="775" y="89" width="1" height="44" fill="#32cd32"/>
<rect x="773" y="105" width="5" height="4" fill="#32cd32"/>
<rect x="783" y="106" width="1" height="26" fill="#32cd32"/>
<rect x="781" y="108" width="5" height="20" fill="#32cd32"/>
<rect x="791" y="126" width="1" height="25" fill="#32cd32"/>
<rect x="789" y="132" width="5" height="4" fill="#32cd32"/>
<rect x="799" y="116" width="1" height="53" fill="#32cd32"/>
<rect x="797" y="135" width="5" height="21" fill="#32cd32"/>
<rect x="807" y="154" width="1" height="26" fill="#32cd32"/>
<rect x="805" y="156" width="5" height="22" fill="#32cd32"/>
<rect x="815" y="152" width="1" height="40" fill="#ff0000"/>
<rect x="813" y="177" width="5" height="2" fill="#ff0000"/>
<rect x="823" y="150" width="1" height="34" fill="#ff0000"/>
<rect x="821" y="175" width="5" height="3" fill="#ff0000"/>
<rect x="822" y="176" width="3" height="1" fill="#ff4500"/>
<rect x="831" y="171" width="1" height="13" fill="#ff0000"/>
<rect x="829" y="172" width="5" height="3" fill="#ff0000"/>
<rect x="830" y="173" width="3" height="1" fill="#ff4500"/>
<rect x="839" y="165" width="1" height="25" fill="#32cd32"/>
<rect x="837" y="171" width="5" height="1" fill="#32cd32"/>
<rect x="847" y="155" width="1" height="25" fill="#ff0000"/>
<rect x="845" y="168" width="5" height="6" fill="#ff0000"/>
<rect x="846" y="169" width="3" height="4" fill="#ff4500"/>
<rect x="855" y="164" width="1" height="46" fill="#32cd32"/>
<rect x="853" y="168" width="5" height="19" fill="#32cd32"/>
<rect x="863" y="159" width="1" height="82" fill="#32cd32"/>
<rect x="861" y="186" width="5" height="26" fill="#32cd32"/>
<rect x="871" y="165" width="1" height="47" fill="#ff0000"/>
<rect x="869" y="193" width="5" height="19" fill="#ff0000"/>
<rect x="870" y="194" width="3" height="17" fill="#ff4500"/>
<rect x="879" y="173" width="1" height="22" fill="#ff0000"/>
<rect x="877" y="178" width="5" height="16" fill="#ff0000"/>
<rect x="878" y="179" width="3" height="14" fill="#ff4500"/>
<rect x="887" y="154" width="1" height="37" fill="#ff0000"/>
<rect x="885" y="175" width="5" height="16" fill="#ff0000"/>
<rect x="886" y="176" width="3" height="14" fill="#ff4500"/>
<rect x="895" y="131" width="1" height="57" fill="#ff0000"/>
<rect x="893" y="139" width="5" height="37" fill="#ff0000"/>
<rect x="894" y="140" width="3" height="35" fill="#ff4500"/>
<rect x="903" y="120" width="1" height="25" fill="#ff0000"/>
<rect x="901" y="134" width="5" height="5" fill="#ff0000"/>
<rect x="902" y="135" width="3" height="3" fill="#ff4500"/>
<rect x="911" y="125" width="1" height="15" fill="#ff0000"/>
<rect x="909" y="130" width="5" height="5" fill="#ff0000"/>
<rect x="910" y="131" width="3" height="3" fill="#ff4500"/>
<rect x="709" y="80" width="288" height="2" fill="#ff0000"/>
<rect x="706" y="184" width="286" height="2" fill="#9acd32"/>
<rect x="687" y="241" width="316" height="2" fill="#288ce6"/>
</g>
<g clip-path="url(#cmacd)">
<rect x="7" y="460" width="1" height="28" fill="#c0c0c0"/>
<rect x="15" y="460" width="1" height="28" fill="#c0c0c0"/>
<rect x="23" y="460" width="1" height="28" fill="#c0c0c0"/>
<rect x="31" y="460" width="1" height="28" fill="#c0c0c0"/>
<rect x="39" y="460" width="1" height="28" fill="#c0c0c0"/>
<rect x="47" y="460" width="1" height="28" fill="#c0c0c0"/>
<rect x="55" y="460" width="1" height="28" fill="#c0c0c0"/>
<rect x="63" y="460" width="1" height="28" fill="#c0c0c0"/>
<rect x="71" y="460" width="1" height="28" fill="#c0c0c0"/>
<rect x="79" y="460" width="1" height="28" fill="#c0c0c0"/>
<rect x="87" y="460" width="1" height="28" fill="#c0c0c0"/>
<rect x="95" y="460" width="1" height="28" fill="#c0c0c0"/>
<rect x="103" y="460" width="1" height="28" fill="#c0c0c0"/>
<rect x="111" y="460" width="1" height="28" fill="#c0c0c0"/>
<rect x="119" y="464" width="1" height="24" fill="#c0c0c0"/>
<rect x="127" y="464" width="1" height="24" fill="#c0c0c0"/>
<rect x="135" y="464" width="1" height="24" fill="#c0c0c0"/>
<rect x="143" y="464" width="1" height="24" fill="#c0c0c0"/>
<rect x="151" y="468" width="1" height="20" fill="#c0c0c0"/>
<rect x="159" y="471" width="1" height="17" fill="#c0c0c0"/>
<rect x="167" y="477" width="1" height="11" fill="#c0c0c0"/>
<rect x="175" y="482" width="1" height="6" fill="#c0c0c0"/>
<rect x="183" y="485" width="1" height="3" fill="#c0c0c0"/>
<rect x="191" y="487" width="1" height="1" fill="#c0c0c0"/>
<rect x="207" y="487" width="1" height="1" fill="#c0c0c0"/>
<rect x="215" y="487" width="1" height="1" fill="#c0c0c0"/>
<rect x="223" y="487" width="1" height="1" fill="#c0c0c0"/>
<rect x="239" y="487" width="1" height="1" fill="#c0c0c0"/>
<rect x="263" y="487" width="1" height="1" fill="#c0c0c0"/>
<rect x="271" y="487" width="1" height="1" fill="#c0c0c0"/>
<rect x="279" y="487" width="1" height="1" fill="#c0c0c0"/>
<rect x="287" y="487" width="1" height="4" fill="#c0c0c0"/>
<rect x="295" y="487" width="1" height="6" fill="#c0c0c0"/>
<rect x="303" y="487" width="1" height="9" fill="#c0c0c0"/>
<rect x="311" y="487" width="1" height="11" fill="#c0c0c0"/>
<rect x="319" y="487" width="1" height="11" fill="#c0c0c0"/>
<rect x="327" y="487" width="1" height="11" fill="#c0c0c0"/>
<rect x="335" y="487" width="1" height="10" fill="#c0c0c0"/>
<rect x="343" y="487" width="1" height="9" fill="#c0c0c0"/>
<rect x="351" y="487" width="1" height="6" fill="#c0c0c0"/>
<rect x="359" y="487" width="1" height="6" fill="#c0c0c0"/>
<rect x="367" y="487" width="1" height="6" fill="#c0c0c0"/>
<rect x="375" y="487" width="1" height="6" fill="#c0c0c0"/>
<rect x="383" y="487" width="1" height="6" fill="#c0c0c0"/>
<rect x="391" y="487" width="1" height="7" fill="#c0c0c0"/>
<rect x="399" y="487" width="1" height="6" fill="#c0c0c0"/>
<rect x="407" y="487" width="1" height="8" fill="#c0c0c0"/>
<rect x="415" y="487" width="1" height="10" fill="#c0c0c0"/>
<rect x="423" y="487" width="1" height="10" fill="#c0c0c0"/>
<rect x="431" y="487" width="1" height="10" fill="#c0c0c0"/>
<rect x="439" y="487" width="1" height="13" fill="#c0c0c0"/>
<rect x="447" y="487" width="1" height="14" fill="#c0c0c0"/>
<rect x="455" y="487" width="1" height="15" fill="#c0c0c0"/>
<rect x="463" y="487" width="1" height="17" fill="#c0c0c0"/>
<rect x="471" y="487" width="1" height="14" fill="#c0c0c0"/>
<rect x="479" y="487" width="1" height="14" fill="#c0c0c0"/>
<rect x="487" y="487" width="1" height="14" fill="#c0c0c0"/>
<rect x="495" y="487" width="1" height="13" fill="#c0c0c0"/>
<rect x="503" y="487" width="1" height="15" fill="#c0c0c0"/>
<rect x="511" y="487" width="1" height="15" fill="#c0c0c0"/>
<rect x="519" y="487" width="1" height="19" fill="#c0c0c0"/>
<rect x="527" y="487" width="1" height="19" fill="#c0c0c0"/>
<rect x="535" y="487" width="1" height="18" fill="#c0c0c0"/>
<rect x="543" y="487" width="1" height="17" fill="#c0c0c0"/>
<rect x="551" y="487" width="1" height="16" fill="#c0c0c0"/>
<rect x="559" y="487" width="1" height="14" fill="#c0c0c0"/>
<rect x="567" y="487" width="1" height="10" fill="#c0c0c0"/>
<rect x="575" y="487" width="1" height="5" fill="#c0c0c0"/>
<rect x="591" y="485" width="1" height="3" fill="#c0c0c0"/>
<rect x="599" y="481" width="1" height="7" fill="#c0c0c0"/>
<rect x="607" y="478" width="1" height="10" fill="#c0c0c0"/>
<rect x="615" y="477" width="1" height="11" fill="#c0c0c0"/>
<rect x="623" y="477" width="1" height="11" fill="#c0c0c0"/>
<rect x="631" y="477" width="1" height="11" fill="#c0c0c0"/>
<rect x="639" y="478" width="1" height="10" fill="#c0c0c0"/>
<rect x="647" y="479" width="1" height="9" fill="#c0c0c0"/>
<rect x="655" y="479" width="1" height="9" fill="#c0c0c0"/>
<rect x="663" y="478" width="1" height="10" fill="#c0c0c0"/>
<rect x="671" y="478" width="1" height="10" fill="#c0c0c0"/>
<rect x="679" y="479" width="1" height="9" fill="#c0c0c0"/>
<rect x="687" y="479" width="1" height="9" fill="#c0c0c0"/>
<rect x="695" y="478" width="1" height="10" fill="#c0c0c0"/>
<rect x="703" y="476" width="1" height="12" fill="#c0c0c0"/>
<rect x="711" y="474" width="1" height="14" fill="#c0c0c0"/>
<rect x="719" y="473" width="1" height="15" fill="#c0c0c0"/>
<rect x="727" y="473" width="1" height="15" fill="#c0c0c0"/>
<rect x="735" y="473" width="1" height="15" fill="#c0c0c0"/>
<rect x="743" y="471" width="1" height="17" fill="#c0c0c0"/>
<rect x="751" y="468" width="1" height="20" fill="#c0c0c0"/>
<rect x="759" y="466" width="1" height="22" fill="#c0c0c0"/>
<rect x="767" y="465" width="1" height="23" fill="#c0c0c0"/>
<rect x="775" y="465" width="1" height="23" fill="#c0c0c0"/>
<rect x="783" y="466" width="1" height="22" fill="#c0c0c0"/>
<rect x="791" y="467" width="1" height="21" fill="#c0c0c0"/>
<rect x="799" y="469" width="1" height="19" fill="#c0c0c0"/>
<rect x="807" y="472" width="1" height="16" fill="#c0c0c0"/>
<rect x="815" y="475" width="1" height="13" fill="#c0c0c0"/>
<rect x="823" y="476" width="1" height="12" fill="#c0c0c0"/>
<rect x="831" y="478" width="1" height="10" fill="#c0c0c0"/>
<rect x="839" y="479" width="1" height="9" fill="#c0c0c0"/>
<rect x="847" y="480" width="1" height="8" fill="#c0c0c0"/>
<rect x="855" y="482" width="1" height="6" fill="#c0c0c0"/>
<rect x="863" y="484" width="1" height="4" fill="#c0c0c0"/>
<rect x="871" y="486" width="1" height="2" fill="#c0c0c0"/>
<rect x="879" y="486" width="1" height="2" fill="#c0c0c0"/>
<rect x="887" y="486" width="1" height="2" fill="#c0c0c0"/>
<rect x="895" y="484" width="1" height="4" fill="#c0c0c0"/>
<rect x="903" y="483" width="1" height="5" fill="#c0c0c0"/>
<rect x="911" y="482" width="1" height="6" fill="#c0c0c0"/>
<path d="M7 460h3v1h-3zM13 460h3v1h-3zM19 460h3v1h-3zM25 460h3v1h-3zM31 460h3v1h-3zM109 460h3v1h-3zM37 459h3v1h-3zM43 459h3v1h-3zM49 459h3v1h-3zM55 459h3v1h-3zM91 459h3v1h-3zM97 459h3v1h-3zM103 459h3v1h-3zM61 458h3v1h-3zM67 458h3v1h-3zM73 458h3v1h-3zM79 458h3v1h-3zM85 458h3v1h-3zM115 461h3v1h-3zM121 461h3v1h-3zM127 461h3v1h-3zM133 462h3v1h-3zM139 463h3v1h-3zM145 463h3v1h-3zM151 463h2v1h-2zM153 464h1v1h-1zM157 465h3v1h-3zM163 466h3v1h-3zM169 467h3v1h-3zM787 467h3v1h-3zM793 467h3v1h-3zM799 467h3v1h-3zM805 467h3v1h-3zM811 467h3v1h-3zM817 467h2v1h-2zM175 468h2v1h-2zM781 468h3v1h-3zM819 468h1v1h-1zM823 468h3v1h-3zM177 469h1v1h-1zM771 469h1v1h-1zM775 469h3v1h-3zM829 469h3v1h-3zM181 470h3v1h-3zM763 470h3v1h-3zM769 470h2v1h-2zM835 470h3v1h-3zM187 472h3v1h-3zM753 472h1v1h-1zM843 472h1v1h-1zM193 474h3v1h-3zM739 474h3v1h-3zM745 474h2v1h-2zM853 474h3v1h-3zM199 475h2v1h-2zM723 475h1v1h-1zM727 475h3v1h-3zM733 475h3v1h-3zM859 475h2v1h-2zM201 476h1v1h-1zM715 476h3v1h-3zM721 476h2v1h-2zM861 476h1v1h-1zM205 477h1v1h-1zM661 477h3v1h-3zM667 477h3v1h-3zM673 477h3v1h-3zM679 477h3v1h-3zM685 477h3v1h-3zM691 477h3v1h-3zM697 477h3v1h-3zM703 477h3v1h-3zM709 477h3v1h-3zM865 477h3v1h-3zM206 478h2v1h-2zM655 478h3v1h-3zM871 478h2v1h-2zM211 480h3v1h-3zM645 480h1v1h-1zM877 480h3v1h-3zM217 482h3v1h-3zM637 482h3v1h-3zM891 482h1v1h-1zM895 482h3v1h-3zM901 482h3v1h-3zM223 483h2v1h-2zM633 483h1v1h-1zM907 483h3v1h-3zM225 484h1v1h-1zM631 484h2v1h-2zM229 485h3v1h-3zM627 485h1v1h-1zM235 486h3v1h-3zM241 486h2v1h-2zM625 486h2v1h-2zM243 487h1v1h-1zM247 487h3v1h-3zM253 487h3v1h-3zM259 488h3v1h-3zM265 488h3v1h-3zM271 488h3v1h-3zM277 488h3v1h-3zM283 488h3v1h-3zM289 488h2v1h-2zM619 488h3v1h-3zM291 489h1v1h-1zM295 489h3v1h-3zM301 490h3v1h-3zM614 490h2v1h-2zM307 491h3v1h-3zM313 491h2v1h-2zM613 491h1v1h-1zM315 492h1v1h-1zM319 492h3v1h-3zM609 492h1v1h-1zM325 493h3v1h-3zM607 493h2v1h-2zM331 494h3v1h-3zM337 494h2v1h-2zM397 494h3v1h-3zM403 494h3v1h-3zM409 494h3v1h-3zM415 494h3v1h-3zM421 494h3v1h-3zM601 494h3v1h-3zM339 495h1v1h-1zM343 495h3v1h-3zM379 495h3v1h-3zM385 495h3v1h-3zM391 495h3v1h-3zM427 495h3v1h-3zM433 495h2v1h-2zM349 496h3v1h-3zM355 496h3v1h-3zM361 496h3v1h-3zM367 496h3v1h-3zM373 496h3v1h-3zM435 496h1v1h-1zM439 496h3v1h-3zM445 496h3v1h-3zM595 496h3v1h-3zM451 497h3v1h-3zM457 497h2v1h-2zM459 498h1v1h-1zM463 498h2v1h-2zM589 498h3v1h-3zM465 499h1v1h-1zM585 499h1v1h-1zM469 500h3v1h-3zM475 500h3v1h-3zM481 500h2v1h-2zM583 500h2v1h-2zM483 501h1v1h-1zM487 501h3v1h-3zM493 501h3v1h-3zM499 501h3v1h-3zM505 501h2v1h-2zM577 501h3v1h-3zM507 502h1v1h-1zM511 502h3v1h-3zM517 502h3v1h-3zM571 502h3v1h-3zM523 503h3v1h-3zM529 503h3v1h-3zM535 503h3v1h-3zM541 503h3v1h-3zM547 503h3v1h-3zM553 503h3v1h-3zM559 503h3v1h-3zM565 503h3v1h-3zM643 481h2v1h-2zM883 481h3v1h-3zM889 481h2v1h-2zM649 479h3v1h-3zM873 479h1v1h-1zM747 473h1v1h-1zM751 473h2v1h-2zM847 473h3v1h-3zM757 471h3v1h-3zM841 471h2v1h-2z" fill="#ff0000"/>
</g>
<g clip-path="url(#crsi)">
<line x1="8" y1="537.5" x2="1157" y2="537.5" stroke="#c0c0c0" stroke-width="1" stroke-dasharray="3 3"/>
<line x1="8" y1="571.5" x2="1157" y2="571.5" stroke="#c0c0c0" stroke-width="1" stroke-dasharray="3 3"/>
<path d="M7 543h2v1h-2zM18 543h2v1h-2zM80 543h1v1h-1zM107 543h6v1h-6zM137 543h2v1h-2zM739 543h2v1h-2zM781 543h2v1h-2zM9 544h4v1h-4zM16 544h2v1h-2zM81 544h1v1h-1zM101 544h6v1h-6zM139 544h3v1h-3zM597 544h12v1h-12zM707 544h16v1h-16zM738 544h1v1h-1zM783 544h4v1h-4zM907 544h4v1h-4zM13 545h3v1h-3zM82 545h1v1h-1zM97 545h4v1h-4zM142 545h2v1h-2zM593 545h4v1h-4zM609 545h2v1h-2zM662 545h2v1h-2zM701 545h6v1h-6zM723 545h8v1h-8zM736 545h2v1h-2zM787 545h5v1h-5zM899 545h8v1h-8zM20 542h2v1h-2zM78 542h2v1h-2zM113 542h2v1h-2zM133 542h4v1h-4zM741 542h2v1h-2zM779 542h2v1h-2zM22 541h3v1h-3zM46 541h13v1h-13zM75 541h3v1h-3zM115 541h3v1h-3zM129 541h4v1h-4zM743 541h2v1h-2zM778 541h1v1h-1zM25 540h2v1h-2zM44 540h2v1h-2zM59 540h8v1h-8zM73 540h2v1h-2zM118 540h11v1h-11zM745 540h2v1h-2zM776 540h2v1h-2zM27 539h3v1h-3zM42 539h2v1h-2zM67 539h6v1h-6zM747 539h3v1h-3zM763 539h13v1h-13zM30 538h5v1h-5zM40 538h2v1h-2zM750 538h13v1h-13zM35 537h5v1h-5zM83 546h1v1h-1zM94 546h3v1h-3zM144 546h1v1h-1zM574 546h19v1h-19zM611 546h3v1h-3zM660 546h2v1h-2zM664 546h1v1h-1zM697 546h4v1h-4zM731 546h5v1h-5zM792 546h2v1h-2zM895 546h4v1h-4zM84 547h1v1h-1zM92 547h2v1h-2zM145 547h2v1h-2zM572 547h2v1h-2zM614 547h5v1h-5zM658 547h2v1h-2zM665 547h1v1h-1zM694 547h3v1h-3zM794 547h2v1h-2zM894 547h1v1h-1zM85 548h1v1h-1zM90 548h2v1h-2zM147 548h1v1h-1zM570 548h2v1h-2zM619 548h6v1h-6zM656 548h2v1h-2zM666 548h1v1h-1zM691 548h3v1h-3zM796 548h2v1h-2zM893 548h1v1h-1zM86 549h1v1h-1zM88 549h2v1h-2zM148 549h1v1h-1zM568 549h2v1h-2zM625 549h4v1h-4zM654 549h2v1h-2zM667 549h1v1h-1zM689 549h2v1h-2zM798 549h2v1h-2zM891 549h2v1h-2zM87 550h1v1h-1zM149 550h2v1h-2zM567 550h1v1h-1zM629 550h6v1h-6zM652 550h2v1h-2zM667 550h1v1h-1zM683 550h6v1h-6zM800 550h2v1h-2zM890 550h1v1h-1zM151 551h1v1h-1zM349 551h3v1h-3zM565 551h2v1h-2zM635 551h6v1h-6zM650 551h2v1h-2zM668 551h1v1h-1zM678 551h5v1h-5zM802 551h1v1h-1zM889 551h1v1h-1zM152 552h2v1h-2zM229 552h3v1h-3zM345 552h4v1h-4zM352 552h2v1h-2zM563 552h2v1h-2zM641 552h4v1h-4zM648 552h2v1h-2zM669 552h1v1h-1zM675 552h3v1h-3zM803 552h2v1h-2zM843 552h6v1h-6zM888 552h1v1h-1zM154 553h1v1h-1zM225 553h4v1h-4zM232 553h1v1h-1zM251 553h6v1h-6zM343 553h2v1h-2zM354 553h1v1h-1zM562 553h1v1h-1zM645 553h3v1h-3zM670 553h1v1h-1zM673 553h2v1h-2zM805 553h2v1h-2zM819 553h24v1h-24zM849 553h2v1h-2zM883 553h5v1h-5zM155 554h2v1h-2zM213 554h12v1h-12zM233 554h1v1h-1zM247 554h4v1h-4zM257 554h4v1h-4zM341 554h2v1h-2zM355 554h2v1h-2zM399 554h1v1h-1zM560 554h2v1h-2zM671 554h2v1h-2zM807 554h12v1h-12zM851 554h3v1h-3zM878 554h5v1h-5zM157 555h2v1h-2zM209 555h4v1h-4zM234 555h1v1h-1zM245 555h2v1h-2zM261 555h4v1h-4zM277 555h3v1h-3zM339 555h2v1h-2zM357 555h2v1h-2zM398 555h1v1h-1zM400 555h1v1h-1zM559 555h1v1h-1zM854 555h2v1h-2zM875 555h3v1h-3zM159 556h1v1h-1zM199 556h10v1h-10zM235 556h2v1h-2zM243 556h2v1h-2zM265 556h4v1h-4zM273 556h4v1h-4zM280 556h1v1h-1zM338 556h1v1h-1zM359 556h2v1h-2zM397 556h1v1h-1zM401 556h1v1h-1zM475 556h6v1h-6zM557 556h2v1h-2zM856 556h1v1h-1zM873 556h2v1h-2zM160 557h1v1h-1zM197 557h2v1h-2zM237 557h1v1h-1zM242 557h1v1h-1zM269 557h4v1h-4zM281 557h1v1h-1zM336 557h2v1h-2zM361 557h2v1h-2zM396 557h1v1h-1zM402 557h1v1h-1zM471 557h4v1h-4zM481 557h2v1h-2zM541 557h4v1h-4zM555 557h2v1h-2zM857 557h2v1h-2zM870 557h3v1h-3zM161 558h2v1h-2zM195 558h2v1h-2zM238 558h1v1h-1zM240 558h2v1h-2zM282 558h1v1h-1zM333 558h3v1h-3zM363 558h3v1h-3zM379 558h5v1h-5zM395 558h1v1h-1zM403 558h1v1h-1zM470 558h1v1h-1zM483 558h3v1h-3zM537 558h4v1h-4zM545 558h2v1h-2zM554 558h1v1h-1zM859 558h1v1h-1zM868 558h2v1h-2zM163 559h1v1h-1zM194 559h1v1h-1zM239 559h1v1h-1zM283 559h1v1h-1zM329 559h4v1h-4zM366 559h13v1h-13zM384 559h2v1h-2zM394 559h1v1h-1zM404 559h1v1h-1zM427 559h5v1h-5zM469 559h1v1h-1zM486 559h10v1h-10zM534 559h3v1h-3zM547 559h3v1h-3zM552 559h2v1h-2zM860 559h1v1h-1zM866 559h2v1h-2zM164 560h1v1h-1zM182 560h5v1h-5zM192 560h2v1h-2zM284 560h1v1h-1zM323 560h6v1h-6zM386 560h2v1h-2zM393 560h1v1h-1zM405 560h1v1h-1zM423 560h4v1h-4zM432 560h1v1h-1zM469 560h1v1h-1zM496 560h2v1h-2zM532 560h2v1h-2zM550 560h2v1h-2zM861 560h2v1h-2zM864 560h2v1h-2zM165 561h2v1h-2zM179 561h3v1h-3zM187 561h5v1h-5zM285 561h1v1h-1zM319 561h4v1h-4zM388 561h2v1h-2zM392 561h1v1h-1zM406 561h1v1h-1zM421 561h2v1h-2zM433 561h2v1h-2zM468 561h1v1h-1zM498 561h2v1h-2zM530 561h2v1h-2zM863 561h1v1h-1zM167 562h4v1h-4zM177 562h2v1h-2zM286 562h1v1h-1zM317 562h2v1h-2zM390 562h2v1h-2zM407 562h2v1h-2zM419 562h2v1h-2zM435 562h1v1h-1zM467 562h1v1h-1zM500 562h2v1h-2zM528 562h2v1h-2zM171 563h6v1h-6zM287 563h4v1h-4zM316 563h1v1h-1zM409 563h2v1h-2zM418 563h1v1h-1zM436 563h1v1h-1zM445 563h11v1h-11zM466 563h1v1h-1zM502 563h10v1h-10zM526 563h2v1h-2zM291 564h6v1h-6zM315 564h1v1h-1zM411 564h3v1h-3zM416 564h2v1h-2zM437 564h2v1h-2zM441 564h4v1h-4zM456 564h2v1h-2zM465 564h1v1h-1zM512 564h2v1h-2zM524 564h2v1h-2zM297 565h2v1h-2zM313 565h2v1h-2zM414 565h2v1h-2zM439 565h2v1h-2zM458 565h2v1h-2zM465 565h1v1h-1zM514 565h2v1h-2zM522 565h2v1h-2zM299 566h3v1h-3zM312 566h1v1h-1zM460 566h2v1h-2zM464 566h1v1h-1zM516 566h2v1h-2zM520 566h2v1h-2zM302 567h10v1h-10zM462 567h2v1h-2zM518 567h2v1h-2z" fill="#1e90ff"/>
</g>
<rect x="1158" y="52" width="2" height="1" fill="#000"/>
<text x="1163.0" y="56" font-size="10" fill="#000" stroke="#000" stroke-width="0.2" text-anchor="start" textLength="33.3" lengthAdjust="spacingAndGlyphs">1.01280</text>
<rect x="1158" y="85" width="2" height="1" fill="#000"/>
<text x="1163.0" y="89" font-size="10" fill="#000" stroke="#000" stroke-width="0.2" text-anchor="start" textLength="33.3" lengthAdjust="spacingAndGlyphs">1.00930</text>
<rect x="1158" y="118" width="2" height="1" fill="#000"/>
<text x="1163.0" y="122" font-size="10" fill="#000" stroke="#000" stroke-width="0.2" text-anchor="start" textLength="33.3" lengthAdjust="spacingAndGlyphs">1.00580</text>
<rect x="1158" y="151" width="2" height="1" fill="#000"/>
<text x="1163.0" y="155" font-size="10" fill="#000" stroke="#000" stroke-width="0.2" text-anchor="start" textLength="33.3" lengthAdjust="spacingAndGlyphs">1.00230</text>
<rect x="1158" y="184" width="2" height="1" fill="#000"/>
<text x="1163.0" y="188" font-size="10" fill="#000" stroke="#000" stroke-width="0.2" text-anchor="start" textLength="33.3" lengthAdjust="spacingAndGlyphs">0.99880</text>
<rect x="1158" y="217" width="2" height="1" fill="#000"/>
<text x="1163.0" y="221" font-size="10" fill="#000" stroke="#000" stroke-width="0.2" text-anchor="start" textLength="33.3" lengthAdjust="spacingAndGlyphs">0.99530</text>
<rect x="1158" y="250" width="2" height="1" fill="#000"/>
<text x="1163.0" y="254" font-size="10" fill="#000" stroke="#000" stroke-width="0.2" text-anchor="start" textLength="33.3" lengthAdjust="spacingAndGlyphs">0.99170</text>
<rect x="1158" y="283" width="2" height="1" fill="#000"/>
<text x="1163.0" y="287" font-size="10" fill="#000" stroke="#000" stroke-width="0.2" text-anchor="start" textLength="33.3" lengthAdjust="spacingAndGlyphs">0.98820</text>
<rect x="1158" y="316" width="2" height="1" fill="#000"/>
<text x="1163.0" y="320" font-size="10" fill="#000" stroke="#000" stroke-width="0.2" text-anchor="start" textLength="33.3" lengthAdjust="spacingAndGlyphs">0.98470</text>
<rect x="1158" y="349" width="2" height="1" fill="#000"/>
<text x="1163.0" y="353" font-size="10" fill="#000" stroke="#000" stroke-width="0.2" text-anchor="start" textLength="33.3" lengthAdjust="spacingAndGlyphs">0.98120</text>
<rect x="1158" y="382" width="2" height="1" fill="#000"/>
<text x="1163.0" y="386" font-size="10" fill="#000" stroke="#000" stroke-width="0.2" text-anchor="start" textLength="33.3" lengthAdjust="spacingAndGlyphs">0.97770</text>
<rect x="1158" y="415" width="2" height="1" fill="#000"/>
<text x="1163.0" y="419" font-size="10" fill="#000" stroke="#000" stroke-width="0.2" text-anchor="start" textLength="33.3" lengthAdjust="spacingAndGlyphs">0.97420</text>
<rect x="1158" y="448" width="2" height="1" fill="#000"/>
<text x="1163.0" y="452" font-size="10" fill="#000" stroke="#000" stroke-width="0.2" text-anchor="start" textLength="33.3" lengthAdjust="spacingAndGlyphs">0.97070</text>
<rect x="1159" y="125" width="40" height="11" fill="#000"/>
<text x="1163.3" y="134" font-size="10" fill="#fff" stroke="#fff" stroke-width="0.2" text-anchor="start" textLength="33.3" lengthAdjust="spacingAndGlyphs">1.00449</text>
<rect x="1158" y="455" width="2" height="1" fill="#000"/>
<text x="1161.2" y="464" font-size="10" fill="#000" stroke="#000" stroke-width="0.2" text-anchor="start" textLength="38" lengthAdjust="spacingAndGlyphs">0.005802</text>
<rect x="1158" y="487" width="2" height="1" fill="#000"/>
<text x="1161.2" y="491" font-size="10" fill="#000" stroke="#000" stroke-width="0.2" text-anchor="start" textLength="17.6" lengthAdjust="spacingAndGlyphs">0.00</text>
<rect x="1158" y="507" width="2" height="1" fill="#000"/>
<text x="1160.8" y="506" font-size="10" fill="#000" stroke="#000" stroke-width="0.2" text-anchor="start" textLength="42" lengthAdjust="spacingAndGlyphs">-0.003945</text>
<rect x="1158" y="512" width="2" height="1" fill="#000"/>
<text x="1161" y="522.5" font-size="10" fill="#000" stroke="#000" stroke-width="0.2" text-anchor="start" textLength="15" lengthAdjust="spacingAndGlyphs">100</text>
<rect x="1158" y="537" width="2" height="1" fill="#000"/>
<text x="1160" y="541" font-size="10" fill="#000" stroke="#000" stroke-width="0.2" text-anchor="start" textLength="10.5" lengthAdjust="spacingAndGlyphs">70</text>
<rect x="1158" y="571" width="2" height="1" fill="#000"/>
<text x="1160" y="575" font-size="10" fill="#000" stroke="#000" stroke-width="0.2" text-anchor="start" textLength="10.5" lengthAdjust="spacingAndGlyphs">30</text>
<rect x="1158" y="595" width="2" height="1" fill="#000"/>
<text x="1160.8" y="593" font-size="10" fill="#000" stroke="#000" stroke-width="0.2" text-anchor="start" textLength="5.5" lengthAdjust="spacingAndGlyphs">0</text>
<rect x="7" y="597" width="1" height="3" fill="#000"/>
<text x="5.6" y="609" font-size="10" fill="#000" stroke="#000" stroke-width="0.2" text-anchor="start" textLength="51.5" lengthAdjust="spacingAndGlyphs">26 Oct 2018</text>
<rect x="71" y="597" width="1" height="3" fill="#000"/>
<text x="69.6" y="609" font-size="10" fill="#000" stroke="#000" stroke-width="0.2" text-anchor="start" textLength="49.599999999999994" lengthAdjust="spacingAndGlyphs">5 Nov 2018</text>
<rect x="135" y="597" width="1" height="3" fill="#000"/>
<text x="133.6" y="609" font-size="10" fill="#000" stroke="#000" stroke-width="0.2" text-anchor="start" textLength="54.4" lengthAdjust="spacingAndGlyphs">14 Nov 2018</text>
<rect x="199" y="597" width="1" height="3" fill="#000"/>
<text x="197.6" y="609" font-size="10" fill="#000" stroke="#000" stroke-width="0.2" text-anchor="start" textLength="54.199999999999996" lengthAdjust="spacingAndGlyphs">23 Nov 2018</text>
<rect x="263" y="597" width="1" height="3" fill="#000"/>
<text x="261.6" y="609" font-size="10" fill="#000" stroke="#000" stroke-width="0.2" text-anchor="start" textLength="47.599999999999994" lengthAdjust="spacingAndGlyphs">3 Dec 2018</text>
<rect x="327" y="597" width="1" height="3" fill="#000"/>
<text x="325.6" y="609" font-size="10" fill="#000" stroke="#000" stroke-width="0.2" text-anchor="start" textLength="51.8" lengthAdjust="spacingAndGlyphs">12 Dec 2018</text>
<rect x="391" y="597" width="1" height="3" fill="#000"/>
<text x="389.6" y="609" font-size="10" fill="#000" stroke="#000" stroke-width="0.2" text-anchor="start" textLength="51.8" lengthAdjust="spacingAndGlyphs">21 Dec 2018</text>
<rect x="455" y="597" width="1" height="3" fill="#000"/>
<text x="453.6" y="609" font-size="10" fill="#000" stroke="#000" stroke-width="0.2" text-anchor="start" textLength="52.4" lengthAdjust="spacingAndGlyphs">31 Dec 2018</text>
<rect x="519" y="597" width="1" height="3" fill="#000"/>
<text x="517.6" y="609" font-size="10" fill="#000" stroke="#000" stroke-width="0.2" text-anchor="start" textLength="44.3" lengthAdjust="spacingAndGlyphs">9 Jan 2019</text>
<rect x="583" y="597" width="1" height="3" fill="#000"/>
<text x="581.6" y="609" font-size="10" fill="#000" stroke="#000" stroke-width="0.2" text-anchor="start" textLength="49.8" lengthAdjust="spacingAndGlyphs">18 Jan 2019</text>
<rect x="647" y="597" width="1" height="3" fill="#000"/>
<text x="645.6" y="609" font-size="10" fill="#000" stroke="#000" stroke-width="0.2" text-anchor="start" textLength="49.8" lengthAdjust="spacingAndGlyphs">28 Jan 2019</text>
<rect x="711" y="597" width="1" height="3" fill="#000"/>
<text x="709.6" y="609" font-size="10" fill="#000" stroke="#000" stroke-width="0.2" text-anchor="start" textLength="47.199999999999996" lengthAdjust="spacingAndGlyphs">6 Feb 2019</text>
<rect x="775" y="597" width="1" height="3" fill="#000"/>
<text x="773.6" y="609" font-size="10" fill="#000" stroke="#000" stroke-width="0.2" text-anchor="start" textLength="52.099999999999994" lengthAdjust="spacingAndGlyphs">15 Feb 2019</text>
<rect x="839" y="597" width="1" height="3" fill="#000"/>
<text x="837.6" y="609" font-size="10" fill="#000" stroke="#000" stroke-width="0.2" text-anchor="start" textLength="52.0" lengthAdjust="spacingAndGlyphs">25 Feb 2019</text>
<rect x="903" y="597" width="1" height="3" fill="#000"/>
<text x="901.6" y="609" font-size="10" fill="#000" stroke="#000" stroke-width="0.2" text-anchor="start" textLength="47.599999999999994" lengthAdjust="spacingAndGlyphs">6 Mar 2019</text>
<path d="M10,38 L17,38 L13.5,42 Z" fill="#000"/>
<text x="22.2" y="43" font-size="10" fill="#000" stroke="#000" stroke-width="0.2" text-anchor="start" textLength="64.8" lengthAdjust="spacingAndGlyphs">USDCHF,Daily</text>
<text x="92.6" y="43" font-size="10" fill="#000" stroke="#000" stroke-width="0.2" text-anchor="start" textLength="33.4" lengthAdjust="spacingAndGlyphs">1.00413</text>
<text x="128.6" y="43" font-size="10" fill="#000" stroke="#000" stroke-width="0.2" text-anchor="start" textLength="33.4" lengthAdjust="spacingAndGlyphs">1.00506</text>
<text x="164.6" y="43" font-size="10" fill="#000" stroke="#000" stroke-width="0.2" text-anchor="start" textLength="33.4" lengthAdjust="spacingAndGlyphs">1.00354</text>
<text x="200.2" y="43" font-size="10" fill="#000" stroke="#000" stroke-width="0.2" text-anchor="start" textLength="33.4" lengthAdjust="spacingAndGlyphs">1.00449</text>
<text x="11.2" y="466" font-size="10" fill="#000" stroke="#000" stroke-width="0.2" text-anchor="start" textLength="148.3" lengthAdjust="spacingAndGlyphs">MACD(12,26,9) 0.001085 0.000716</text>
<text x="10.8" y="524" font-size="10" fill="#000" stroke="#000" stroke-width="0.2" text-anchor="start" textLength="68.8" lengthAdjust="spacingAndGlyphs">RSI(14) 61.5232</text>
<rect x="0" y="618" width="1199" height="25" fill="#f0f0f0"/>
<rect x="2" y="618" width="1197" height="1" fill="#ffffff"/>
<rect x="2" y="619" width="1197" height="1" fill="#000"/>
<rect x="3" y="620" width="1" height="18" fill="#696969"/>
<rect x="4" y="620" width="1" height="18" fill="#ffffff"/>
<rect x="4" y="620" width="1195" height="1" fill="#ffffff"/>
<rect x="215" y="620" width="1" height="18" fill="#ffffff"/>
<rect x="0" y="638" width="4" height="1" fill="#696969"/>
<rect x="0" y="639" width="1199" height="1" fill="#ffffff"/>
<rect x="216" y="619" width="100" height="19" fill="#ffffff"/>
<rect x="216" y="619" width="1" height="19" fill="#000"/>
<rect x="315" y="619" width="1" height="19" fill="#000"/>
<rect x="216" y="637" width="100" height="1" fill="#000"/>
<rect x="316" y="620" width="1" height="19" fill="#a0a0a0"/>
<rect x="217" y="638" width="100" height="1" fill="#a0a0a0"/>
<rect x="317" y="620" width="1" height="19" fill="#ffffff"/>
<text x="19.5" y="634" font-size="12" fill="#6d6d6d" stroke="#6d6d6d" stroke-width="0" text-anchor="start" textLength="80.5" lengthAdjust="spacingAndGlyphs">EURUSD,Daily</text>
<text x="122.5" y="634" font-size="12" fill="#6d6d6d" stroke="#6d6d6d" stroke-width="0" text-anchor="start" textLength="83" lengthAdjust="spacingAndGlyphs">AUDUSD,Daily</text>
<text x="226.2" y="634" font-size="12" fill="#000" stroke="#000" stroke-width="0" text-anchor="start" textLength="79" lengthAdjust="spacingAndGlyphs">USDCHF,Daily</text>
<text x="326.5" y="634" font-size="12" fill="#6d6d6d" stroke="#6d6d6d" stroke-width="0" text-anchor="start" textLength="81.7" lengthAdjust="spacingAndGlyphs">USDCAD,Daily</text>
<text x="429.5" y="634" font-size="12" fill="#6d6d6d" stroke="#6d6d6d" stroke-width="0" text-anchor="start" textLength="71.7" lengthAdjust="spacingAndGlyphs">USDCNH,H4</text>
<text x="521.2" y="634" font-size="12" fill="#6d6d6d" stroke="#6d6d6d" stroke-width="0" text-anchor="start" textLength="76" lengthAdjust="spacingAndGlyphs">USDJPY,Daily</text>
<text x="617.8" y="634" font-size="12" fill="#6d6d6d" stroke="#6d6d6d" stroke-width="0" text-anchor="start" textLength="70.4" lengthAdjust="spacingAndGlyphs">XAUUSD,H4</text>
<text x="711.5" y="634" font-size="12" fill="#6d6d6d" stroke="#6d6d6d" stroke-width="0" text-anchor="start" textLength="69" lengthAdjust="spacingAndGlyphs">GBPUSD,H4</text>
<text x="802.8" y="634" font-size="12" fill="#6d6d6d" stroke="#6d6d6d" stroke-width="0" text-anchor="start" textLength="54.4" lengthAdjust="spacingAndGlyphs">SP500,H1</text>
<text x="879.7" y="634" font-size="12" fill="#6d6d6d" stroke="#6d6d6d" stroke-width="0" text-anchor="start" textLength="68.5" lengthAdjust="spacingAndGlyphs">GBPUSD,H1</text>
<text x="969.9" y="634" font-size="12" fill="#6d6d6d" stroke="#6d6d6d" stroke-width="0" text-anchor="start" textLength="47.5" lengthAdjust="spacingAndGlyphs">DJ30,H4</text>
<text x="1037.8" y="634" font-size="12" fill="#6d6d6d" stroke="#6d6d6d" stroke-width="0" text-anchor="start" textLength="71.6" lengthAdjust="spacingAndGlyphs">TECH100,H1</text>
<text x="1131.8" y="634" font-size="12" fill="#6d6d6d" stroke="#6d6d6d" stroke-width="0" text-anchor="start" textLength="35.7" lengthAdjust="spacingAndGlyphs">UKOil,</text>
<rect x="112" y="623" width="1" height="13" fill="#6d6d6d"/>
<rect x="420" y="623" width="1" height="13" fill="#6d6d6d"/>
<rect x="512" y="623" width="1" height="13" fill="#6d6d6d"/>
<rect x="608" y="623" width="1" height="13" fill="#6d6d6d"/>
<rect x="700" y="623" width="1" height="13" fill="#6d6d6d"/>
<rect x="792" y="623" width="1" height="13" fill="#6d6d6d"/>
<rect x="868" y="623" width="1" height="13" fill="#6d6d6d"/>
<rect x="960" y="623" width="1" height="13" fill="#6d6d6d"/>
<rect x="1028" y="623" width="1" height="13" fill="#6d6d6d"/>
<rect x="1120" y="623" width="1" height="13" fill="#6d6d6d"/>
<path d="M1176,623 L1172,627 L1176,631 Z" fill="#a0a0a0"/>
<path d="M1192,623 L1196,627 L1192,631 Z" fill="#000"/></svg>
</body></html>
